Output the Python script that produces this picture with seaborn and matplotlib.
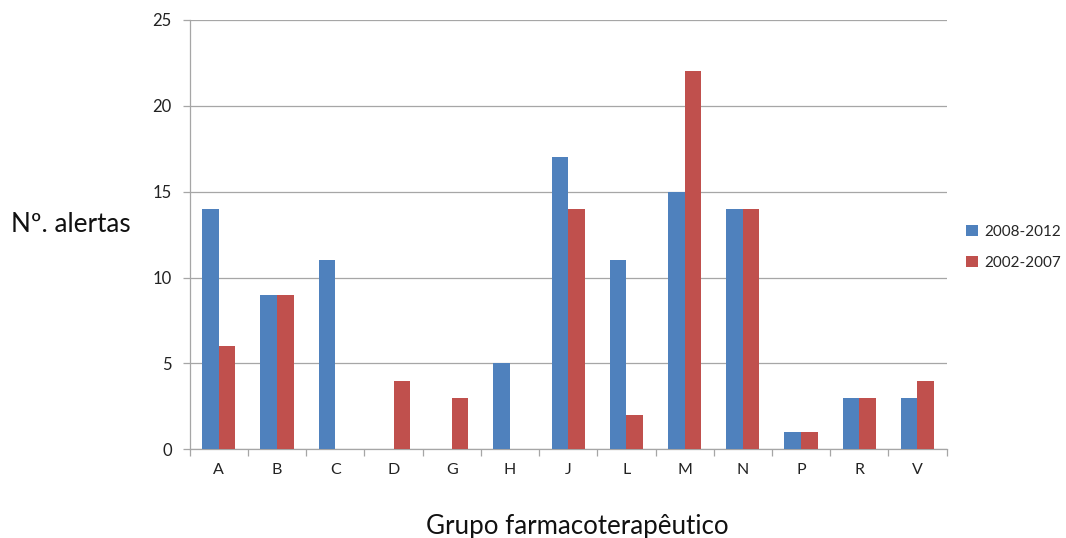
import matplotlib
matplotlib.use("Agg")
import matplotlib.pyplot as plt
import seaborn as sns
import pandas as pd

categories = ["A", "B", "C", "D", "G", "H", "J", "L", "M", "N", "P", "R", "V"]
series_names = ["2008-2012", "2002-2007"]
values_2008_2012 = [14, 9, 11, 0, 0, 5, 17, 11, 15, 14, 1, 3, 3]
values_2002_2007 = [6, 9, 0, 4, 3, 0, 14, 2, 22, 14, 1, 3, 4]
y_ticks = [0, 5, 10, 15, 20, 25]

df = pd.DataFrame({
    "grupo": categories * 2,
    "periodo": [series_names[0]] * len(categories) + [series_names[1]] * len(categories),
    "alertas": values_2008_2012 + values_2002_2007,
})

sns.set_style("white")
plt.rcParams["font.family"] = ["Lato", "DejaVu Sans"]

fig = plt.figure(figsize=(10.66, 5.38), dpi=100)
ax = fig.add_axes([0.178, 0.165, 0.71, 0.798])

palette = {series_names[0]: "#4F81BD", series_names[1]: "#C0504D"}
sns.barplot(data=df, x="grupo", y="alertas", hue="periodo", order=categories,
            hue_order=series_names, palette=palette, width=0.57, ax=ax,
            saturation=1, legend=True, linewidth=0, edgecolor="none", zorder=3)

ax.set_ylim(0, 25)
ax.set_xlim(-0.5, len(categories) - 0.5)
ax.set_yticks(y_ticks)
ax.set_yticklabels([str(t) for t in y_ticks], fontsize=12, color="#222222")
ax.yaxis.grid(True, color="#A6A6A6", linewidth=0.9, zorder=0)
ax.set_axisbelow(True)

# category boundary ticks on x axis
ax.set_xticks(range(len(categories)))
ax.set_xticklabels(categories, fontsize=11.5, color="#222222")
ax.tick_params(axis="x", which="major", bottom=False, length=0, pad=10)
ax.set_xticks([i - 0.5 for i in range(len(categories) + 1)], minor=True)
ax.tick_params(axis="x", which="minor", bottom=True, length=5, color="#A6A6A6",
               width=0.9, direction="out")
ax.tick_params(axis="y", left=True, length=5, color="#A6A6A6", width=0.9,
               direction="out", pad=8)

for side in ["top", "right"]:
    ax.spines[side].set_visible(False)
for side in ["left", "bottom"]:
    ax.spines[side].set_color("#A6A6A6")
    ax.spines[side].set_linewidth(0.9)

ax.set_xlabel("")
ax.set_ylabel("")
fig.text(0.01, 0.582, "Nº. alertas", fontsize=18.8, va="center", ha="left", color="#111111")
fig.text(0.542, 0.022, "Grupo farmacoterapêutico", fontsize=18.6, va="center",
         ha="center", color="#111111")

handles, labels = ax.get_legend_handles_labels()
ax.legend(handles, labels, loc="center left", bbox_to_anchor=(1.008, 0.47), frameon=False,
          fontsize=11, handlelength=0.75, handleheight=0.75, labelspacing=1.15,
          handletextpad=0.45)

fig.savefig("out.png", dpi=100)
